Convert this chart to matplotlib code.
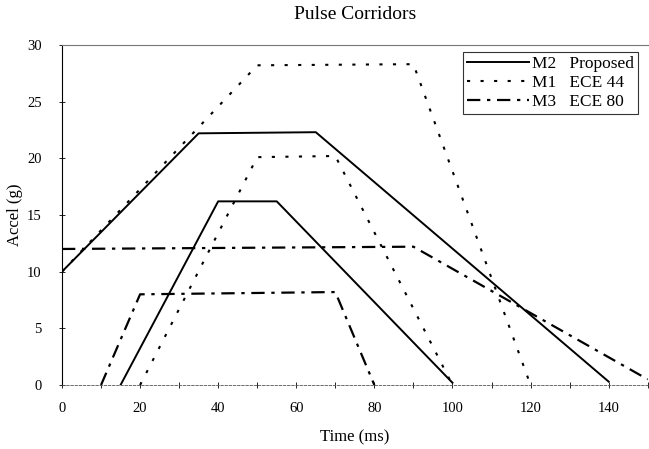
import matplotlib.pyplot as plt
from matplotlib.ticker import MultipleLocator

plt.rcParams["font.family"] = ["Liberation Serif", "DejaVu Serif"]

# M2 Proposed corridor (solid)
m2_upper_t = [0, 35, 65, 140]
m2_upper_g = [10, 22.2, 22.3, 0.3]
m2_lower_t = [15, 40, 55, 100]
m2_lower_g = [0, 16.2, 16.2, 0.2]

# M1 ECE 44 corridor (dotted)
m1_upper_t = [0, 50, 90, 120]
m1_upper_g = [10, 28.2, 28.3, 0]
m1_lower_t = [20, 50, 70, 100]
m1_lower_g = [0, 20.1, 20.2, 0]

# M3 ECE 80 corridor (dash-dot)
m3_upper_t = [0, 90, 150]
m3_upper_g = [12, 12.2, 0.5]
m3_lower_t = [10, 20, 70, 80]
m3_lower_g = [0, 8, 8.2, 0]

xticks = [0, 20, 40, 60, 80, 100, 120, 140]

fig = plt.figure(figsize=(6.49, 4.49), dpi=100)
ax = fig.add_axes([0.0955, 0.1425, 0.9025, 0.7575])

solid = dict(color="black", lw=1.4, linestyle="-")
dotted = dict(color="black", lw=1.5, linestyle=(0, (1.5, 5)))
dashdot = dict(color="black", lw=1.6, linestyle=(0, (6, 3, 1.5, 3)))

ax.plot(m2_upper_t, m2_upper_g, label="M2   Proposed", **solid)
ax.plot(m2_lower_t, m2_lower_g, **solid)
ax.plot(m1_upper_t, m1_upper_g, label="M1   ECE 44", **dotted)
ax.plot(m1_lower_t, m1_lower_g, **dotted)
ax.plot(m3_upper_t, m3_upper_g, label="M3   ECE 80", **dashdot)
ax.plot(m3_lower_t, m3_lower_g, **dashdot)

ax.set_xlim(0, 150)
ax.set_ylim(0, 30)
ax.set_xticks(xticks)
ax.xaxis.set_minor_locator(MultipleLocator(10))
ax.yaxis.set_major_locator(MultipleLocator(5))
ax.tick_params(which="both", direction="inout", length=5, width=0.6, labelsize=10.5)
ax.tick_params(axis="x", pad=10)
ax.tick_params(axis="y", pad=12)

ax.spines["right"].set_visible(False)
ax.spines["top"].set_color("#777777")
ax.spines["top"].set_linewidth(0.8)
ax.spines["left"].set_linewidth(0.8)
ax.spines["bottom"].set_linestyle((0, (3, 2)))
ax.spines["bottom"].set_color("#555555")
ax.spines["bottom"].set_linewidth(0.6)

ax.set_title("Pulse Corridors", fontsize=14, pad=19)
ax.set_xlabel("Time (ms)", fontsize=12, labelpad=10)
ax.set_ylabel("Accel (g)", fontsize=12)
ax.yaxis.set_label_coords(-0.066, 0.5)

leg = ax.legend(loc="upper right", bbox_to_anchor=(0.99, 0.99), fontsize=12.5,
                frameon=True, fancybox=False, edgecolor="black", handlelength=3.6,
                handletextpad=0.15, borderpad=0.25, labelspacing=0.15,
                borderaxespad=0.2)
leg.get_frame().set_linewidth(0.8)

fig.savefig("out.png", dpi=100)
